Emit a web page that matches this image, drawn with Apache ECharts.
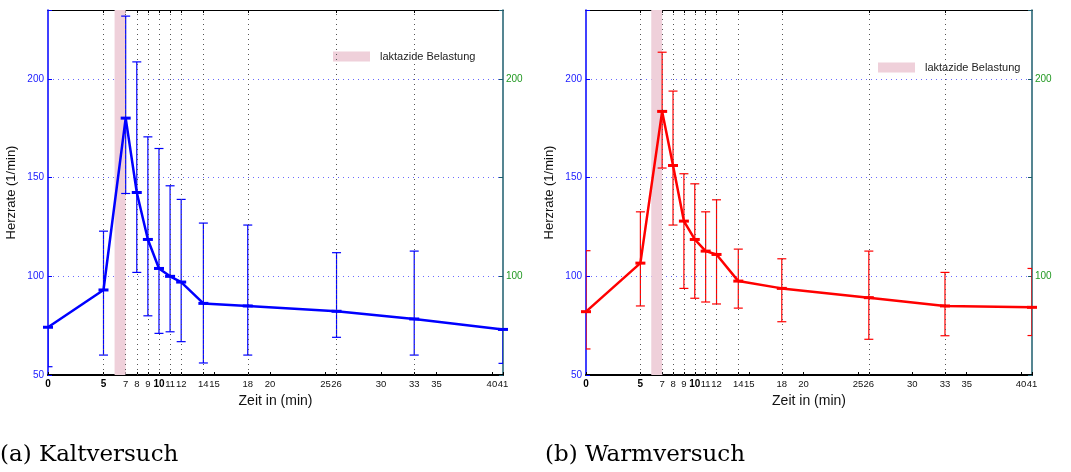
<!DOCTYPE html>
<html><head><meta charset="utf-8">
<script src="https://cdn.jsdelivr.net/npm/echarts@6/dist/echarts.min.js"></script>
<style>html,body{margin:0;padding:0;background:#fff}#c{width:1071px;height:472px}</style>
</head><body><div id="c"></div>
<script>
const times = [0,5,7,8,9,10,11,12,14,18,26,33,41];
const xTickLabels = [0,5,7,8,9,10,11,12,14,15,18,20,25,26,30,33,35,40,41];
const boldTicks = [0,5,10];
const gridLines = [5,7,8,9,10,11,12,14,18,26,33];
const loadBand = [6,7];
const kaltMean = [74.2,93.1,180.2,142.5,118.7,104.0,100.0,97.1,86.3,85.0,82.3,78.4,73.1];
const kaltLow  = [54.2,60.1,142.0,102.0,80.0,71.1,71.9,66.9,56.1,60.1,69.1,60.1,55.9];
const kaltHigh = [74.2,122.9,231.9,208.7,170.7,164.8,145.9,139.0,127.0,126.0,112.0,112.8,73.1];
const warmMean = [82.1,106.7,183.6,156.2,128.0,118.7,112.8,111.1,97.6,93.9,89.2,85.0,84.3];
const warmLow  = [63.2,85.0,154.9,126.0,93.9,88.9,87.0,86.0,83.9,77.0,68.1,69.9,70.0];
const warmHigh = [113.0,132.7,213.6,193.9,152.0,146.9,132.7,138.8,113.8,108.9,112.8,102.0,104.0];
const yTicks = [50,100,150,200];
const rightTicks = [100,200];
const yMin = 50, yMax = 235, xMin = 0, xMax = 41;
const bandName = 'laktazide Belastung';
const captions = ['(a) Kaltversuch', '(b) Warmversuch'];

const FONT = 'Liberation Sans';
const grids = [
  {left: 48, right: 568, top: 10, bottom: 97},
  {left: 586, right: 39, top: 10, bottom: 97}
];

function xAxesFor(i) {
  return [{
    gridIndex: i, type: 'value', min: xMin, max: xMax, position: 'bottom',
    axisLine: {onZero: false, lineStyle: {color: '#000', width: 2}},
    axisTick: {show: true, inside: true, length: 3, customValues: xTickLabels, lineStyle: {color: '#000'}},
    axisLabel: {
      customValues: xTickLabels, fontSize: 9.5, fontFamily: FONT, color: '#111', margin: 4,
      hideOverlap: false,
      formatter: v => boldTicks.includes(v) ? '{b|' + v + '}' : String(v),
      rich: {b: {fontWeight: 'bold', fontSize: 10, fontFamily: FONT, color: '#000'}}
    },
    splitLine: {show: false},
    name: 'Zeit in (min)', nameLocation: 'middle', nameGap: 18,
    nameTextStyle: {fontSize: 14, fontFamily: FONT, color: '#111'}
  }, {
    gridIndex: i, type: 'value', min: xMin, max: xMax, position: 'top',
    axisLine: {onZero: false, lineStyle: {color: '#000', width: 1}},
    axisTick: {show: true, inside: true, length: 3, customValues: gridLines, lineStyle: {color: '#000'}},
    axisLabel: {show: false}, splitLine: {show: false}
  }];
}
function yAxesFor(i) {
  return [{
    gridIndex: i, type: 'value', min: yMin, max: yMax, interval: 50, position: 'left',
    axisLine: {show: true, onZero: false, lineStyle: {color: '#0000ff', width: 1.5}},
    axisTick: {show: true, inside: true, length: 4, lineStyle: {color: '#0000ff'}},
    axisLabel: {fontSize: 10, fontFamily: FONT, color: '#2020ff', margin: 4,
      formatter: v => yTicks.includes(v) ? String(v) : ''},
    splitLine: {show: true, lineStyle: {type: [1, 4], color: '#6a6aff', width: 1}},
    name: 'Herzrate (1/min)', nameLocation: 'middle', nameGap: 30,
    nameTextStyle: {fontSize: 13, fontFamily: FONT, color: '#111'}
  }, {
    gridIndex: i, type: 'value', min: yMin, max: yMax, interval: 50, position: 'right',
    axisLine: {show: true, onZero: false, lineStyle: {color: '#1d5e6e', width: 1.5}},
    axisTick: {show: true, inside: true, length: 4, lineStyle: {color: '#1d5e6e'}},
    axisLabel: {fontSize: 10, fontFamily: FONT, color: '#229922', margin: 3,
      formatter: v => rightTicks.includes(v) ? String(v) : ''},
    splitLine: {show: false}
  }];
}

function errSeries(i, low, high, color) {
  return {
    type: 'custom', xAxisIndex: 2 * i, yAxisIndex: 2 * i, z: 4, clip: true, silent: true,
    data: times.map((t, k) => [t, low[k], high[k]]),
    encode: {x: 0, y: [1, 2]},
    renderItem: (params, api) => {
      const x = api.value(0);
      const pLo = api.coord([x, api.value(1)]);
      const pHi = api.coord([x, api.value(2)]);
      const hw = 4.5;
      const st = {stroke: color, lineWidth: 1.2};
      return {type: 'group', children: [
        {type: 'line', shape: {x1: pLo[0], y1: pLo[1], x2: pHi[0], y2: pHi[1]}, style: st},
        {type: 'line', shape: {x1: pLo[0] - hw, y1: pLo[1], x2: pLo[0] + hw, y2: pLo[1]}, style: st},
        {type: 'line', shape: {x1: pHi[0] - hw, y1: pHi[1], x2: pHi[0] + hw, y2: pHi[1]}, style: st}
      ]};
    }
  };
}
function bandSeries(i) {
  return {
    type: 'custom', name: bandName, xAxisIndex: 2 * i, yAxisIndex: 2 * i, z: 1, silent: true,
    itemStyle: {color: '#efd0da'},
    data: [[loadBand[0], loadBand[1]]],
    encode: {x: [0, 1]},
    renderItem: (params, api) => {
      const a = api.coord([api.value(0), yMax]);
      const b = api.coord([api.value(1), yMin]);
      return {type: 'rect', shape: {x: a[0], y: a[1], width: b[0] - a[0], height: b[1] - a[1]},
        style: {fill: '#efd0da'}};
    },
    markLine: {
      silent: true, symbol: 'none', label: {show: false},
      lineStyle: {type: [1, 4], color: '#555', width: 1},
      data: gridLines.map(v => ({xAxis: v}))
    }
  };
}
function lineSeries(i, mean, color) {
  return {
    type: 'line', xAxisIndex: 2 * i, yAxisIndex: 2 * i, z: 5, silent: true,
    data: times.map((t, k) => [t, mean[k]]),
    lineStyle: {color: color, width: 2.5},
    itemStyle: {color: color},
    symbol: 'rect', symbolSize: [10, 3], showSymbol: true
  };
}

const chart = echarts.init(document.getElementById('c'), null, {renderer: 'canvas'});
chart.setOption({
  animation: false,
  backgroundColor: '#fff',
  grid: grids,
  xAxis: [...xAxesFor(0), ...xAxesFor(1)],
  yAxis: [...yAxesFor(0), ...yAxesFor(1)],
  legend: [
    {data: [bandName], left: 333, top: 51, padding: 0, icon: 'rect', itemWidth: 37, itemHeight: 10,
      selectedMode: false, textStyle: {fontSize: 11, fontFamily: FONT, color: '#222', padding: [0, 0, 0, 5]}},
    {data: [bandName], left: 878, top: 62, padding: 0, icon: 'rect', itemWidth: 37, itemHeight: 10,
      selectedMode: false, textStyle: {fontSize: 11, fontFamily: FONT, color: '#222', padding: [0, 0, 0, 5]}}
  ],
  graphic: [
    {type: 'text', left: 0, top: 444, style: {text: captions[0], font: '23px "DejaVu Serif"', fill: '#000'}},
    {type: 'text', left: 545, top: 444, style: {text: captions[1], font: '23px "DejaVu Serif"', fill: '#000'}}
  ],
  series: [
    bandSeries(0), errSeries(0, kaltLow, kaltHigh, '#0000ff'), lineSeries(0, kaltMean, '#0000ff'),
    bandSeries(1), errSeries(1, warmLow, warmHigh, '#ff0000'), lineSeries(1, warmMean, '#ff0000')
  ]
});
</script></body></html>
